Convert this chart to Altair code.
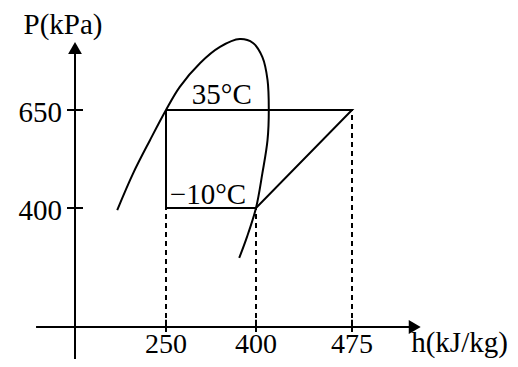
import altair as alt
import pandas as pd

# ---- data (h in kJ/kg, P in kPa) ----
h_ticks = [250, 400, 475]
h_tick_labels = ["250", "400", "475"]
p_ticks = [400, 650]
p_tick_labels = ["400", "650"]

# refrigeration cycle 1-2-3-4
cycle_h = [250, 475, 400, 250, 250]
cycle_p = [650, 650, 400, 400, 650]

# saturation dome (schematic)
dome_h = [116, 160, 206, 250, 273, 307, 340, 373, 395, 405, 409, 410, 409, 405, 400, 385, 372]
dome_p = [393, 489, 573, 650, 709, 770, 811, 831, 821, 785, 727, 650, 573, 489, 400, 303, 232]

# dashed drop lines
drop_h = [250, 400, 475]
drop_p = [400, 400, 650]

# temperature labels
temp_labels = ["35°C", "−10°C"]
temp_h = [343, 320]
temp_p = [688, 433]

FONT = "Liberation Serif"
FS = 29

xs = alt.Scale(domain=[0, 250, 400, 475], range=[67, 158, 248, 344], nice=False, zero=False)
ys = alt.Scale(domain=[0, 400, 650], range=[319, 200, 102], nice=False, zero=False)

X = lambda f: alt.X(f, type="quantitative", scale=xs, axis=None)
Y = lambda f: alt.Y(f, type="quantitative", scale=ys, axis=None)

# axes lines
axes_df = pd.DataFrame({
    "x": [-107, 0], "x2": [520, 0],
    "y": [0, -140], "y2": [0, 800],
})
axes = alt.Chart(axes_df).mark_rule(color="black", strokeWidth=2).encode(
    x=X("x"), x2="x2", y=Y("y"), y2="y2")

arrows_df = pd.DataFrame({"x": [524, 0], "y": [0, 808], "shape": ["triangle-right", "triangle-up"]})
arrows = alt.Chart(arrows_df).mark_point(filled=True, color="black", opacity=1, size=190).encode(
    x=X("x"), y=Y("y"),
    shape=alt.Shape("shape:N", scale=None, legend=None))

# tick marks
xt_df = pd.DataFrame({"x": h_ticks, "lab": h_tick_labels})
xticks = alt.Chart(xt_df).mark_rule(color="black", strokeWidth=2).encode(
    x=X("x"), y=alt.Y("lo:Q", scale=ys, axis=None), y2="hi:Q"
).transform_calculate(lo="-17", hi="24")
xlabels = alt.Chart(xt_df).mark_text(font=FONT, fontSize=28, baseline="alphabetic", color="black").encode(
    x=X("x"), y=alt.Y("yy:Q", scale=ys, axis=None), text="lab:N"
).transform_calculate(yy="-88")

yt_df = pd.DataFrame({"y": p_ticks, "lab": p_tick_labels})
yticks = alt.Chart(yt_df).mark_rule(color="black", strokeWidth=2).encode(
    y=Y("y"), x=alt.X("lo:Q", scale=xs, axis=None), x2="hi:Q"
).transform_calculate(lo="-22", hi="22")
ylabels = alt.Chart(yt_df).mark_text(font=FONT, fontSize=FS, baseline="middle", align="right",
                                     dy=3, color="black").encode(
    y=Y("y"), x=alt.X("xx:Q", scale=xs, axis=None), text="lab:N"
).transform_calculate(xx="-36")

# axis titles
titles_df = pd.DataFrame({"x": [-33, 559], "y": [867, -84], "t": ["P(kPa)", "h(kJ/kg)"]})
ptitle = alt.Chart(titles_df.iloc[[0]]).mark_text(font=FONT, fontSize=FS, baseline="middle", color="black").encode(
    x=X("x"), y=Y("y"), text="t:N")
htitle = alt.Chart(titles_df.iloc[[1]]).mark_text(font=FONT, fontSize=FS, baseline="alphabetic", color="black").encode(
    x=X("x"), y=Y("y"), text="t:N")

# dome
dome_df = pd.DataFrame({"h": dome_h, "p": dome_p, "o": list(range(len(dome_h)))})
dome = alt.Chart(dome_df).mark_line(color="black", strokeWidth=2, interpolate="catmull-rom").encode(
    x=X("h"), y=Y("p"), order="o:Q")

# cycle
cyc_df = pd.DataFrame({"h": cycle_h, "p": cycle_p, "o": list(range(len(cycle_h)))})
cycle = alt.Chart(cyc_df).mark_line(color="black", strokeWidth=2, strokeJoin="miter").encode(
    x=X("h"), y=Y("p"), order="o:Q")

# dashed lines
drop_df = pd.DataFrame({"h": drop_h, "p": drop_p})
drops = alt.Chart(drop_df).mark_rule(color="black", strokeWidth=2, strokeDash=[5, 4]).encode(
    x=X("h"), y=alt.Y("z:Q", scale=ys, axis=None), y2="p"
).transform_calculate(z="0")

# temperature labels
temp_df = pd.DataFrame({"h": temp_h, "p": temp_p, "t": temp_labels})
temps = alt.Chart(temp_df).mark_text(font=FONT, fontSize=FS, baseline="middle", color="black").encode(
    x=X("h"), y=Y("p"), text="t:N")

chart = alt.layer(drops, axes, arrows, xticks, yticks, xlabels, ylabels, ptitle, htitle, dome, cycle, temps).properties(
    width=502, height=351, padding=0, autosize=alt.AutoSizeParams(type="none"),
).configure_view(stroke=None)

chart.save("out.html", embed_options={"renderer": "svg", "actions": False})
